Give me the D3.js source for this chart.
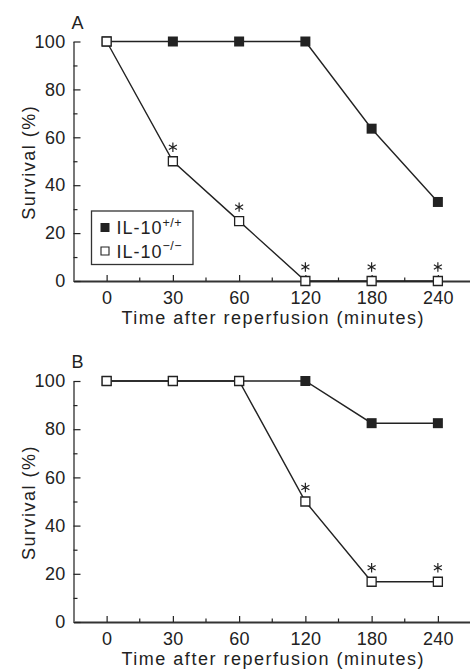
<!DOCTYPE html>
<html>
<head>
<meta charset="utf-8">
<script src="https://cdn.jsdelivr.net/npm/d3@7"></script>
<style>
  body { margin: 0; background: #fff; }
</style>
</head>
<body>
<div id="viz"></div>
<script>
const timeLabels = ["0", "30", "60", "120", "180", "240"];
const survivalAWild = [100, 100, 100, 100, 63.6, 33];
const survivalAKnockout = [100, 50, 25, 0, 0, 0];
const survivalBWild = [100, 100, 100, 100, 82.5, 82.5];
const survivalBKnockout = [100, 100, 100, 50, 16.7, 16.7];
const starsA = [false, true, true, true, true, true];
const starsB = [false, false, false, true, true, true];
const yTicks = [0, 20, 40, 60, 80, 100];
const yMinorTicks = [10, 30, 50, 70, 90];
const legendLabels = [
  { base: "IL-10", sup: "+/+" },
  { base: "IL-10", sup: "\u2212/\u2212" },
];

const config = {
  svgWidth: 470,
  svgHeight: 669,
  xLeft: 73.5,
  xRight: 471,
  font: "'Liberation Sans', Arial, Helvetica, sans-serif",
  fontSize: 18,
  ink: "#222",
  axisGrey: "#777",
  markerSize: 100,
  openMarkerSize: 81,
  starSize: 60,
  starOffset: 14,
};

const panels = [
  { label: "A", top: 41.5, bottom: 281, wild: survivalAWild, knockout: survivalAKnockout, stars: starsA, legend: true },
  { label: "B", top: 381, bottom: 622, wild: survivalBWild, knockout: survivalBKnockout, stars: starsB, legend: false },
];

const svg = d3
  .select("#viz")
  .append("svg")
  .attr("width", config.svgWidth)
  .attr("height", config.svgHeight)
  .attr("font-family", config.font)
  .attr("fill", config.ink);

const styleTickText = (g) => {
  g.selectAll("text")
    .attr("font-size", config.fontSize)
    .attr("font-family", config.font)
    .attr("letter-spacing", 0.3)
    .attr("fill", config.ink);
};

const drawPanel = (p) => {
  const x = d3
    .scalePoint()
    .domain(timeLabels)
    .range([config.xLeft, config.xRight])
    .padding(0.5);
  const y = d3.scaleLinear().domain([0, 100]).range([p.bottom, p.top]);

  // x axis, ticks point inwards
  const xAxis = svg
    .append("g")
    .attr("transform", `translate(0,${p.bottom})`)
    .call(d3.axisBottom(x).tickSizeInner(-6).tickSizeOuter(0).tickPadding(10.5));
  xAxis.select(".domain").attr("stroke", "#333").attr("stroke-width", 2);
  xAxis.selectAll(".tick line").attr("stroke", config.ink).attr("stroke-width", 1.2);
  styleTickText(xAxis);

  // minor x ticks halfway between the time points
  const minorX = timeLabels.slice(1).map((d, i) => (x(timeLabels[i]) + x(d)) / 2);
  svg
    .append("g")
    .selectAll("line")
    .data(minorX)
    .join("line")
    .attr("x1", (d) => d)
    .attr("x2", (d) => d)
    .attr("y1", p.bottom)
    .attr("y2", p.bottom - 3.5)
    .attr("stroke", config.ink)
    .attr("stroke-width", 1.2);

  // y axis
  const yAxis = svg
    .append("g")
    .attr("transform", `translate(${config.xLeft},0)`)
    .call(d3.axisLeft(y).tickValues(yTicks).tickSizeInner(-7).tickSizeOuter(0).tickPadding(8));
  yAxis.select(".domain").attr("stroke", config.axisGrey).attr("stroke-width", 2);
  yAxis.selectAll(".tick line").attr("stroke", config.ink).attr("stroke-width", 1.2);
  styleTickText(yAxis);

  const yMinor = svg
    .append("g")
    .attr("transform", `translate(${config.xLeft},0)`)
    .call(d3.axisLeft(y).tickValues(yMinorTicks).tickSizeInner(-4).tickSizeOuter(0).tickFormat(""));
  yMinor.select(".domain").remove();
  yMinor.selectAll(".tick line").attr("stroke", config.ink).attr("stroke-width", 1.2);

  // series
  const line = d3
    .line()
    .x((d, i) => x(timeLabels[i]))
    .y((d) => y(d));

  [p.wild, p.knockout].forEach((values) => {
    svg
      .append("path")
      .attr("d", line(values))
      .attr("fill", "none")
      .attr("stroke", config.ink)
      .attr("stroke-width", 1.4);
  });

  svg
    .append("g")
    .selectAll("path")
    .data(p.wild)
    .join("path")
    .attr("transform", (d, i) => `translate(${x(timeLabels[i])},${y(d)})`)
    .attr("d", d3.symbol(d3.symbolSquare, config.markerSize))
    .attr("fill", config.ink);

  svg
    .append("g")
    .selectAll("path")
    .data(p.knockout)
    .join("path")
    .attr("transform", (d, i) => `translate(${x(timeLabels[i])},${y(d)})`)
    .attr("d", d3.symbol(d3.symbolSquare, config.openMarkerSize))
    .attr("fill", "#fff")
    .attr("stroke", config.ink)
    .attr("stroke-width", 1.3);

  // significance stars above the knockout points
  svg
    .append("g")
    .selectAll("path")
    .data(p.knockout.map((v, i) => ({ v, i })).filter((d) => p.stars[d.i]))
    .join("path")
    .attr("transform", (d) => `translate(${x(timeLabels[d.i])},${y(d.v) - config.starOffset})`)
    .attr("d", d3.symbol(d3.symbolAsterisk, config.starSize))
    .attr("fill", "none")
    .attr("stroke", config.ink)
    .attr("stroke-width", 1.2);

  // panel letter
  svg
    .append("text")
    .attr("x", config.xLeft - 2)
    .attr("y", p.top - 13)
    .attr("font-size", config.fontSize)
    .text(p.label);

  // axis titles
  svg
    .append("text")
    .attr("x", (config.xLeft + config.xRight) / 2 + 1)
    .attr("y", p.bottom + 42.5)
    .attr("text-anchor", "middle")
    .attr("font-size", config.fontSize)
    .attr("letter-spacing", 1.5)
    .text("Time after reperfusion (minutes)");

  svg
    .append("text")
    .attr("transform", `translate(35,${(p.top + p.bottom) / 2 + 1}) rotate(-90)`)
    .attr("text-anchor", "middle")
    .attr("font-size", config.fontSize)
    .attr("letter-spacing", 1.5)
    .text("Survival (%)");

  if (p.legend) drawLegend(p);
};

const drawLegend = (p) => {
  const lx = config.xLeft + 18;
  const ly = p.bottom - 70;
  const g = svg.append("g").attr("transform", `translate(${lx},${ly})`);

  g.append("rect")
    .attr("width", 101.5)
    .attr("height", 53.5)
    .attr("fill", "#fff")
    .attr("stroke", "#333")
    .attr("stroke-width", 1.3);

  legendLabels.forEach((d, i) => {
    const cy = 16.5 + i * 23.5;
    g.append("path")
      .attr("transform", `translate(13.5,${cy})`)
      .attr("d", d3.symbol(d3.symbolSquare, i === 0 ? 81 : 64))
      .attr("fill", i === 0 ? config.ink : "#fff")
      .attr("stroke", i === 0 ? "none" : config.ink)
      .attr("stroke-width", 1.1);

    const t = g
      .append("text")
      .attr("x", 25)
      .attr("y", cy + 6.5)
      .attr("font-size", config.fontSize)
      .attr("letter-spacing", 1);
    t.append("tspan").text(d.base);
    t.append("tspan")
      .attr("font-size", 12.5)
      .attr("dy", -7.5)
      .attr("letter-spacing", 0.5)
      .text(d.sup);
  });
};

panels.forEach(drawPanel);
</script>
</body>
</html>
